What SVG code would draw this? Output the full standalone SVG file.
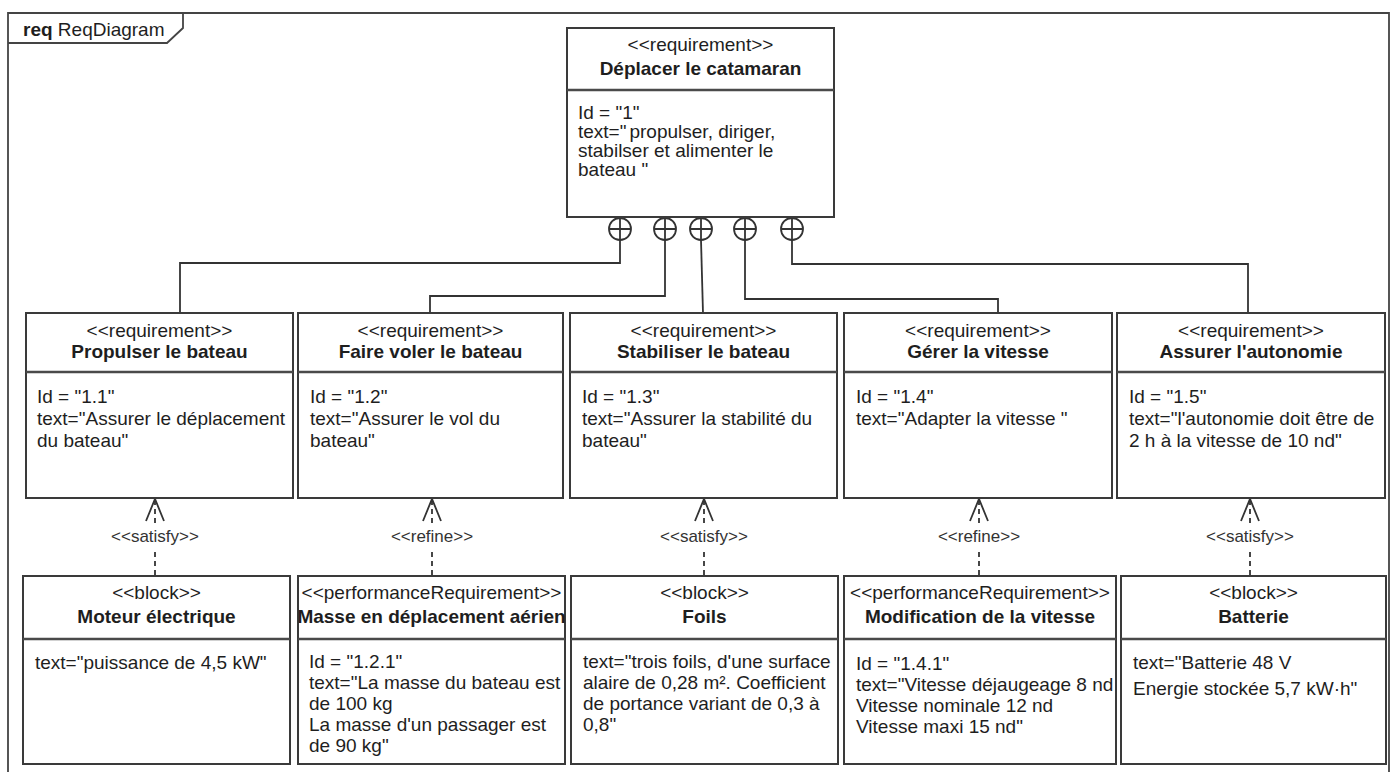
<svg xmlns="http://www.w3.org/2000/svg" xmlns:xlink="http://www.w3.org/1999/xlink" width="1393" height="772" viewBox="0 0 1393 772">
<style>
  text { font-family: "Liberation Sans", Arial, sans-serif; fill: #1e1e1e; font-size: 19px; }
  .st { text-anchor: middle; }
  .nm { text-anchor: middle; font-weight: bold; }
  .lbl { text-anchor: middle; font-size: 17px; fill: #333; }
  .box { fill: #fff; stroke: #3a3a3a; stroke-width: 2; }
  .sep { stroke: #4a4a4a; stroke-width: 2.5; }
  .frame { fill: none; stroke: #444; stroke-width: 1.8; }
  .conn { fill: none; stroke: #333; stroke-width: 1.8; }
  .dash { fill: none; stroke: #333; stroke-width: 1.8; stroke-dasharray: 5 4; }
  .head { fill: none; stroke: #333; stroke-width: 1.8; }
  .circ { fill: #fff; stroke: #333; stroke-width: 1.8; }
</style>
<defs>
  <path id="arrow" class="head" d="M -9 521 L 0 499 L 9 521"/>
  <g id="plus">
    <circle class="circ" cx="0" cy="229" r="11"/>
    <path class="conn" d="M -11 229 H 11 M 0 218 V 240"/>
  </g>
</defs>
<rect width="1393" height="772" fill="#fff"/>

<g id="frame">
  <path class="frame" d="M 8 790 V 13 H 1389 V 790"/>
  <path class="frame" d="M 8 43 H 167 L 183 28 V 13"/>
  <text x="23" y="36" font-size="18.5"><tspan font-weight="bold">req</tspan> ReqDiagram</text>
</g>

<g id="connectors">
  <path class="conn" d="M 620 240 V 263 H 180 V 313"/>
  <path class="conn" d="M 665 240 V 296 H 430 V 313"/>
  <path class="conn" d="M 701 240 L 703 313"/>
  <path class="conn" d="M 745 240 V 299 H 998 V 313"/>
  <path class="conn" d="M 792 240 V 264 H 1248 V 313"/>
  <use xlink:href="#plus" x="620"/>
  <use xlink:href="#plus" x="665"/>
  <use xlink:href="#plus" x="701"/>
  <use xlink:href="#plus" x="745"/>
  <use xlink:href="#plus" x="792"/>

  <path class="dash" d="M 155 500 V 525 M 155 552 V 576"/>
  <use xlink:href="#arrow" x="155"/>
  <text class="lbl" x="155" y="542">&lt;&lt;satisfy&gt;&gt;</text>

  <path class="dash" d="M 432 500 V 525 M 432 552 V 576"/>
  <use xlink:href="#arrow" x="432"/>
  <text class="lbl" x="432" y="542">&lt;&lt;refine&gt;&gt;</text>

  <path class="dash" d="M 704 500 V 525 M 704 552 V 576"/>
  <use xlink:href="#arrow" x="704"/>
  <text class="lbl" x="704" y="542">&lt;&lt;satisfy&gt;&gt;</text>

  <path class="dash" d="M 979 500 V 525 M 979 552 V 576"/>
  <use xlink:href="#arrow" x="979"/>
  <text class="lbl" x="979" y="542">&lt;&lt;refine&gt;&gt;</text>

  <path class="dash" d="M 1250 500 V 525 M 1250 552 V 576"/>
  <use xlink:href="#arrow" x="1250"/>
  <text class="lbl" x="1250" y="542">&lt;&lt;satisfy&gt;&gt;</text>
</g>

<g id="req-1">
  <rect class="box" x="567" y="28" width="267" height="189"/>
  <line class="sep" x1="567" y1="90" x2="834" y2="90"/>
  <text class="st" x="700.5" y="51">&lt;&lt;requirement&gt;&gt;</text>
  <text class="nm" x="700.5" y="75">Déplacer le catamaran</text>
  <text x="578" y="119">Id = "1"</text>
  <text x="578" y="138">text="<tspan dx="3">propulser, diriger,</tspan></text>
  <text x="578" y="157">stabilser et alimenter le</text>
  <text x="578" y="176">bateau "</text>
</g>

<g id="req-1-1">
  <rect class="box" x="26" y="313" width="267" height="185"/>
  <line class="sep" x1="26" y1="372" x2="293" y2="372"/>
  <text class="st" x="159.5" y="337">&lt;&lt;requirement&gt;&gt;</text>
  <text class="nm" x="159.5" y="358">Propulser le bateau</text>
  <text x="37" y="403">Id = "1.1"</text>
  <text x="37" y="425">text="Assurer le déplacement</text>
  <text x="37" y="447">du bateau"</text>
</g>

<g id="req-1-2">
  <rect class="box" x="298" y="313" width="265" height="185"/>
  <line class="sep" x1="298" y1="372" x2="563" y2="372"/>
  <text class="st" x="430.5" y="337">&lt;&lt;requirement&gt;&gt;</text>
  <text class="nm" x="430.5" y="358">Faire voler le bateau</text>
  <text x="310" y="403">Id = "1.2"</text>
  <text x="310" y="425">text="Assurer le vol du</text>
  <text x="310" y="447">bateau"</text>
</g>

<g id="req-1-3">
  <rect class="box" x="570" y="313" width="267" height="185"/>
  <line class="sep" x1="570" y1="372" x2="837" y2="372"/>
  <text class="st" x="703.5" y="337">&lt;&lt;requirement&gt;&gt;</text>
  <text class="nm" x="703.5" y="358">Stabiliser le bateau</text>
  <text x="582" y="403">Id = "1.3"</text>
  <text x="582" y="425">text="Assurer la stabilité du</text>
  <text x="582" y="447">bateau"</text>
</g>

<g id="req-1-4">
  <rect class="box" x="844" y="313" width="268" height="185"/>
  <line class="sep" x1="844" y1="372" x2="1112" y2="372"/>
  <text class="st" x="978" y="337">&lt;&lt;requirement&gt;&gt;</text>
  <text class="nm" x="978" y="358">Gérer la vitesse</text>
  <text x="856" y="403">Id = "1.4"</text>
  <text x="856" y="425">text="Adapter la vitesse "</text>
</g>

<g id="req-1-5">
  <rect class="box" x="1117" y="313" width="268" height="185"/>
  <line class="sep" x1="1117" y1="372" x2="1385" y2="372"/>
  <text class="st" x="1251" y="337">&lt;&lt;requirement&gt;&gt;</text>
  <text class="nm" x="1251" y="358">Assurer l'autonomie</text>
  <text x="1129" y="403">Id = "1.5"</text>
  <text x="1129" y="425">text="l'autonomie doit être de</text>
  <text x="1129" y="447">2 h à la vitesse de 10 nd"</text>
</g>

<g id="block-moteur">
  <rect class="box" x="23" y="576" width="267" height="188"/>
  <line class="sep" x1="23" y1="639" x2="290" y2="639"/>
  <text class="st" x="156.5" y="599">&lt;&lt;block&gt;&gt;</text>
  <text class="nm" x="156.5" y="623">Moteur électrique</text>
  <text x="35" y="669">text="puissance de 4,5 kW"</text>
</g>

<g id="perf-masse">
  <rect class="box" x="298" y="576" width="267" height="188"/>
  <line class="sep" x1="298" y1="639" x2="565" y2="639"/>
  <text class="st" x="431.5" y="599">&lt;&lt;performanceRequirement&gt;&gt;</text>
  <text class="nm" x="431.5" y="623">Masse en déplacement aérien</text>
  <text x="309" y="668">Id = "1.2.1"</text>
  <text x="309" y="689">text="La masse du bateau est</text>
  <text x="309" y="710">de 100 kg</text>
  <text x="309" y="731">La masse d'un passager est</text>
  <text x="309" y="752">de 90 kg"</text>
</g>

<g id="block-foils">
  <rect class="box" x="571" y="576" width="267" height="188"/>
  <line class="sep" x1="571" y1="639" x2="838" y2="639"/>
  <text class="st" x="704.5" y="599">&lt;&lt;block&gt;&gt;</text>
  <text class="nm" x="704.5" y="623">Foils</text>
  <text x="583" y="668">text="trois foils, d'une surface</text>
  <text x="583" y="689">alaire de 0,28 m². Coefficient</text>
  <text x="583" y="710">de portance variant de 0,3 à</text>
  <text x="583" y="731">0,8"</text>
</g>

<g id="perf-vitesse">
  <rect class="box" x="844" y="576" width="272" height="188"/>
  <line class="sep" x1="844" y1="639" x2="1116" y2="639"/>
  <text class="st" x="980" y="599">&lt;&lt;performanceRequirement&gt;&gt;</text>
  <text class="nm" x="980" y="623">Modification de la vitesse</text>
  <text x="856" y="670">Id = "1.4.1"</text>
  <text x="856" y="691">text="Vitesse déjaugeage 8 nd</text>
  <text x="856" y="712">Vitesse nominale 12 nd</text>
  <text x="856" y="733">Vitesse maxi 15 nd"</text>
</g>

<g id="block-batterie">
  <rect class="box" x="1121" y="576" width="265" height="188"/>
  <line class="sep" x1="1121" y1="639" x2="1386" y2="639"/>
  <text class="st" x="1253.5" y="599">&lt;&lt;block&gt;&gt;</text>
  <text class="nm" x="1253.5" y="623">Batterie</text>
  <text x="1133" y="669">text="Batterie 48 V</text>
  <text x="1133" y="695">Energie stockée 5,7 kW·h"</text>
</g>
</svg>
